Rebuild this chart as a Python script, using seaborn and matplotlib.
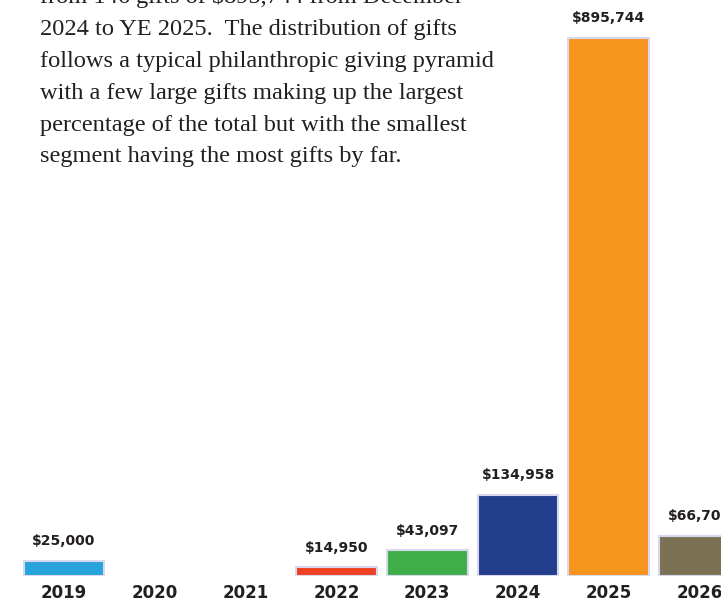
import numpy as np
import pandas as pd
import matplotlib
matplotlib.use("Agg")
import matplotlib.pyplot as plt
import seaborn as sns

# giving by year (2020 and 2021 had no gifts)
years = ["2019", "2020", "2021", "2022", "2023", "2024", "2025", "2026"]
totals = [25000, np.nan, np.nan, 14950, 43097, 134958, 895744, 66700]
bar_colors = ["#29A3DC", "#FFFFFF", "#FFFFFF", "#EE4123", "#3FAE4A",
              "#243E8E", "#F7941D", "#7B7256"]

intro_lines = [
    "from 146 gifts of $895,744 from December",
    "2024 to YE 2025.  The distribution of gifts",
    "follows a typical philanthropic giving pyramid",
    "with a few large gifts making up the largest",
    "percentage of the total but with the smallest",
    "segment having the most gifts by far.",
]

sns.set_theme(style="white")
plt.rcParams["font.family"] = ["DejaVu Sans"]

df = pd.DataFrame({"year": years, "total": totals})
palette = dict(zip(years, bar_colors))

fig = plt.figure(figsize=(7.21, 6.03), dpi=100)
ax = fig.add_axes([0, 27 / 603, 1, 576 / 603])

sns.barplot(data=df, x="year", y="total", hue="year", order=years,
            palette=palette, saturation=1, width=0.89, edgecolor="#D9D9EE",
            linewidth=1.5, legend=False, ax=ax)

ax.set_xlim(-0.705, 7.235)
ax.set_ylim(0, 895744 * 576 / 538)

for cont in ax.containers:
    labels = []
    for bar in cont:
        h = bar.get_height()
        labels.append("" if not np.isfinite(h) or h == 0 else f"${h:,.0f}")
    ax.bar_label(cont, labels=labels, padding=9, fontsize=10,
                 fontweight="bold", color="#231F20")

ax.set_xlabel("")
ax.set_ylabel("")
ax.set_yticks([])
ax.tick_params(axis="x", length=0, pad=6)
for lbl in ax.get_xticklabels():
    lbl.set_fontsize(12)
    lbl.set_fontweight("bold")
    lbl.set_color("#231F20")
sns.despine(ax=ax, left=True, bottom=True)

# intro paragraph (top line is cut by the page edge)
for i, line in enumerate(intro_lines):
    fig.text(40 / 721, 1 - (3.5 + 31.75 * i) / 603, line,
             family=["Liberation Serif", "DejaVu Serif"], fontsize=17.6,
             color="#231F20", ha="left", va="baseline")

fig.savefig("out.png", dpi=100)
